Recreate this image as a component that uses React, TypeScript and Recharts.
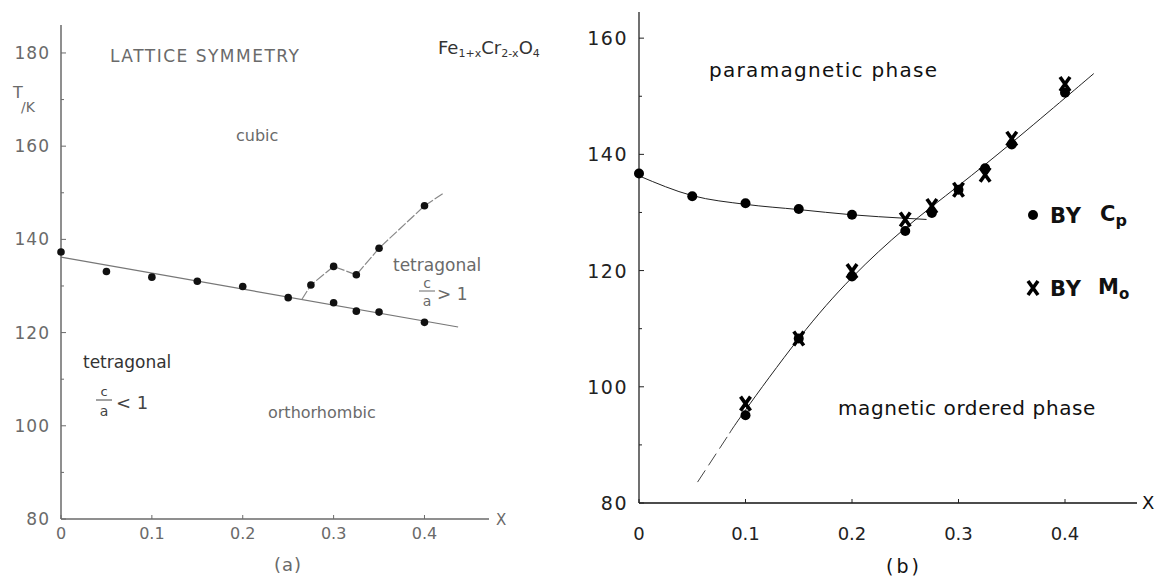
import React from 'react';
import { ComposedChart, Line, Scatter, XAxis, YAxis } from 'recharts';

// ---------- Panel (a): lattice symmetry ----------
const aPointX = [0, 0.05, 0.1, 0.15, 0.2, 0.25, 0.3, 0.325, 0.35, 0.4];
const aPointT = [137.3, 133.1, 131.9, 131.0, 129.9, 127.5, 126.4, 124.6, 124.4, 122.2];
const aUpperX = [0.275, 0.3, 0.325, 0.35, 0.4];
const aUpperT = [130.2, 134.2, 132.4, 138.1, 147.2];
const aFitX = [0, 0.437];
const aFitT = [136.2, 121.2];
const aBranchX = [0.265, 0.275, 0.3, 0.325, 0.35, 0.4, 0.42];
const aBranchT = [127.1, 130.2, 134.2, 132.4, 138.1, 147.2, 149.8];
const aYTicks = [80, 90, 100, 110, 120, 130, 140, 150, 160, 170, 180];
const aXTicks = [0, 0.1, 0.2, 0.3, 0.4];

// ---------- Panel (b): magnetic phase ----------
const bCpX = [0, 0.05, 0.1, 0.15, 0.2, 0.1, 0.15, 0.2, 0.25, 0.275, 0.3, 0.325, 0.35, 0.4];
const bCpT = [136.7, 132.8, 131.6, 130.6, 129.6, 95.1, 108.3, 119.0, 126.8, 129.9, 133.9, 137.6, 141.7, 150.6];
const bMoX = [0.1, 0.15, 0.2, 0.25, 0.275, 0.3, 0.325, 0.35, 0.4];
const bMoT = [97.1, 108.3, 119.9, 128.8, 131.1, 133.9, 136.5, 142.7, 152.1];
const bParaX = [0, 0.05, 0.1, 0.15, 0.2, 0.25, 0.27];
const bParaT = [136.3, 132.9, 131.4, 130.5, 129.6, 129.0, 128.8];
const bOrdX = [0.085, 0.1, 0.15, 0.2, 0.25, 0.3, 0.35, 0.4, 0.427];
const bOrdT = [92.0, 96.0, 108.3, 118.8, 127.3, 134.6, 142.0, 149.7, 153.9];
const bOrdDashX = [0.055, 0.085];
const bOrdDashT = [83.6, 92.0];
const bYTicks = [80, 90, 100, 110, 120, 130, 140, 150, 160];
const bXTicks = [0, 0.1, 0.2, 0.3, 0.4];

const pts = (xs: number[], ys: number[]) => xs.map((x, i) => ({ x, y: ys[i] }));

const FONT = '"DejaVu Sans", sans-serif';

const makeYTick = (margin: number, color: string, fontSize: number, spacing: number) => (props: any) => {
  const { x, y, payload } = props;
  const v = payload.value;
  const ax = x + margin;
  const major = v % 20 === 0;
  return (
    <g>
      <line x1={ax} x2={ax + (major ? 5 : 3)} y1={y} y2={y} stroke={color} strokeWidth={1} />
      {major && (
        <text x={x} y={y} textAnchor="end" dominantBaseline="central" fill={color}
          fontSize={fontSize} fontFamily={FONT} letterSpacing={spacing}>{v}</text>
      )}
    </g>
  );
};

const makeXTick = (margin: number, color: string, fontSize: number) => (props: any) => {
  const { x, y, payload } = props;
  const v = payload.value;
  const ay = y - margin;
  return (
    <g>
      <line x1={x} x2={x} y1={ay} y2={ay - 4} stroke={color} strokeWidth={1} />
      <text x={x} y={y} textAnchor="middle" dominantBaseline="central" fill={color}
        fontSize={fontSize} fontFamily={FONT}>{v === 0 ? '0' : String(v)}</text>
    </g>
  );
};

const Dot = (r: number, fill: string) => (p: any) => <circle cx={p.cx} cy={p.cy} r={r} fill={fill} />;

const CrossShape = (p: any) => (
  <path d={`M${p.cx - 5},${p.cy - 7}L${p.cx + 5},${p.cy + 7}M${p.cx + 5},${p.cy - 7}L${p.cx - 5},${p.cy + 7}`}
    stroke="#000" strokeWidth={3.6} fill="none" />
);

const GRAY = '#6a6a6a';
const DARK = '#111';

export default function App() {
  return (
    <div style={{ position: 'absolute', left: 0, top: 0, width: 1158, height: 577, background: '#fff', overflow: 'hidden' }}>
      <div style={{ position: 'absolute', left: 0, top: 0 }}>
        <ComposedChart width={580} height={577} margin={{ top: 25, right: 91, left: 1, bottom: 28 }}>
          <XAxis type="number" dataKey="x" domain={[0, 0.471]} ticks={aXTicks} interval={0}
            height={30} tickSize={0} tickMargin={14} tickLine={false}
            axisLine={{ stroke: GRAY, strokeWidth: 1.5 }} tick={makeXTick(14, GRAY, 16)} />
          <YAxis type="number" dataKey="y" domain={[80, 186]} ticks={aYTicks} interval={0}
            width={60} tickSize={0} tickMargin={11} tickLine={false}
            axisLine={{ stroke: GRAY, strokeWidth: 1.5 }} tick={makeYTick(11, GRAY, 17, 1)} />
          <Line data={pts(aFitX, aFitT)} dataKey="y" type="linear" dot={false} stroke="#777"
            strokeWidth={1.2} isAnimationActive={false} />
          <Line data={pts(aBranchX, aBranchT)} dataKey="y" type="linear" dot={false} stroke="#888"
            strokeWidth={1.2} strokeDasharray="10 2" isAnimationActive={false} />
          <Scatter data={pts(aPointX, aPointT)} dataKey="y" shape={Dot(3.8, DARK)} isAnimationActive={false} />
          <Scatter data={pts(aUpperX, aUpperT)} dataKey="y" shape={Dot(3.8, DARK)} isAnimationActive={false} />
        </ComposedChart>
      </div>
      <div style={{ position: 'absolute', left: 580, top: 0 }}>
        <ComposedChart width={578} height={577} margin={{ top: 12, right: 21, left: 9, bottom: 44 }}>
          <XAxis type="number" dataKey="x" domain={[0, 0.4676]} ticks={bXTicks} interval={0}
            height={30} tickSize={0} tickMargin={30} tickLine={false}
            axisLine={{ stroke: DARK, strokeWidth: 1.5 }} tick={makeXTick(30, '#222', 18)} />
          <YAxis type="number" dataKey="y" domain={[80, 164.5]} ticks={bYTicks} interval={0}
            width={50} tickSize={0} tickMargin={11} tickLine={false}
            axisLine={{ stroke: DARK, strokeWidth: 1.2 }} tick={makeYTick(11, '#222', 19, 1.5)} />
          <Line data={pts(bParaX, bParaT)} dataKey="y" type="monotone" dot={false} stroke="#222"
            strokeWidth={1} isAnimationActive={false} />
          <Line data={pts(bOrdX, bOrdT)} dataKey="y" type="natural" dot={false} stroke="#222"
            strokeWidth={1} isAnimationActive={false} />
          <Line data={pts(bOrdDashX, bOrdDashT)} dataKey="y" type="linear" dot={false} stroke="#444"
            strokeWidth={1} strokeDasharray="14 6" isAnimationActive={false} />
          <Scatter data={pts(bCpX, bCpT)} dataKey="y" shape={Dot(5, '#000')} isAnimationActive={false} />
          <Scatter data={pts(bMoX, bMoT)} dataKey="y" shape={CrossShape} isAnimationActive={false} />
        </ComposedChart>
      </div>
      <svg width={1158} height={577} style={{ position: 'absolute', left: 0, top: 0, pointerEvents: 'none' }}
        fontFamily={FONT}>
        {/* panel (a) annotations */}
        <g fill={GRAY}>
          <text x={110} y={62} fontSize={17} letterSpacing={1.5}>LATTICE SYMMETRY</text>
          <text x={13} y={98} fontSize={16}>T</text>
          <text x={21} y={112} fontSize={14}>/K</text>
          <text x={236} y={141} fontSize={16}>cubic</text>
          <text x={393} y={271} fontSize={17}>tetragonal</text>
          <text x={427} y={288} fontSize={14} textAnchor="middle">c</text>
          <line x1={419} x2={435} y1={291} y2={291} stroke={GRAY} strokeWidth={1} />
          <text x={427} y={306} fontSize={14} textAnchor="middle">a</text>
          <text x={437} y={300} fontSize={17}>&gt; 1</text>
          <text x={83} y={368} fontSize={17} fill="#333">tetragonal</text>
          <text x={104} y={396} fontSize={13} textAnchor="middle" fill="#444">c</text>
          <line x1={96} x2={112} y1={400} y2={400} stroke="#444" strokeWidth={1} />
          <text x={104} y={416} fontSize={14} textAnchor="middle" fill="#444">a</text>
          <text x={116} y={409} fontSize={18} fill="#444">&lt; 1</text>
          <text x={268} y={418} fontSize={16}>orthorhombic</text>
          <text x={496} y={525} fontSize={15}>X</text>
          <text x={288} y={571} fontSize={18} textAnchor="middle" letterSpacing={1}>(a)</text>
        </g>
        <text x={438} y={54} fontSize={18} fill="#333">
          Fe<tspan fontSize={11} dy={3}>1+x</tspan><tspan dy={-3}>Cr</tspan><tspan fontSize={11} dy={3}>2-x</tspan><tspan dy={-3}>O</tspan><tspan fontSize={11} dy={3}>4</tspan>
        </text>
        {/* panel (b) annotations */}
        <g fill={DARK}>
          <text x={709} y={77} fontSize={20} letterSpacing={1.3}>paramagnetic phase</text>
          <text x={838} y={415} fontSize={20} letterSpacing={0.6}>magnetic ordered phase</text>
          <text x={1142} y={509} fontSize={18}>X</text>
          <text x={904} y={573} fontSize={19} textAnchor="middle" letterSpacing={3}>(b)</text>
          <circle cx={1033} cy={215} r={5} fill="#000" />
          <text x={1050} y={223} fontSize={21} fontWeight="bold" letterSpacing={1}>BY</text>
          <text x={1100} y={221} fontSize={21} fontWeight="bold">C<tspan fontSize={16} dy={5}>p</tspan></text>
          <path d="M1028,281L1038,295M1038,281L1028,295" stroke="#000" strokeWidth={3.6} fill="none" />
          <text x={1050} y={296} fontSize={21} fontWeight="bold" letterSpacing={1}>BY</text>
          <text x={1098} y={294} fontSize={21} fontWeight="bold">M<tspan fontSize={15} dy={5}>o</tspan></text>
        </g>
      </svg>
    </div>
  );
}
